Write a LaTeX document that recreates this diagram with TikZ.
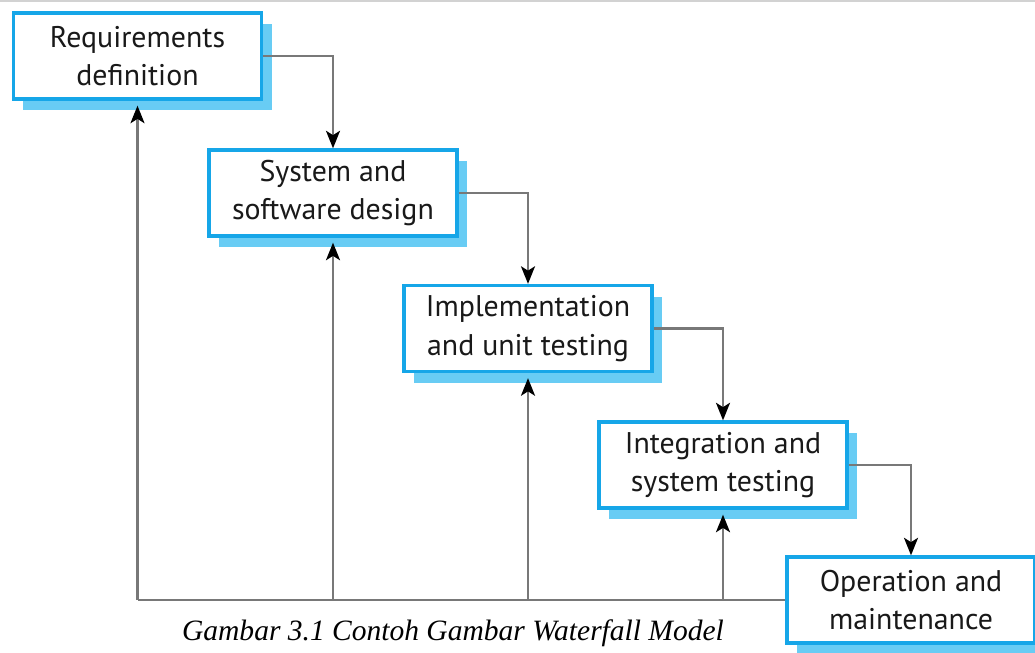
\documentclass[tikz,border=0pt]{standalone}
\usepackage{fontspec}
\setmainfont{Liberation Serif}
\newfontfamily\boxfont{PT Sans}
\usepackage{xcolor}
\usepackage{tikz}
\usetikzlibrary{arrows.meta}
\usetikzlibrary{shadows}
\definecolor{boxblue}{RGB}{22,166,232}
\definecolor{shadeblue}{RGB}{104,204,244}
\definecolor{linegray}{RGB}{120,120,120}
\tikzset{>=latex}
\tikzstyle{phase} = [rectangle, draw=boxblue, line width=1.9pt, fill=white, minimum width=4.96cm, minimum height=1.72cm, align=center, font=\boxfont\fontsize{17}{22}\selectfont, text=black!90, drop shadow={shadow xshift=0.2cm, shadow yshift=-0.22cm, fill=shadeblue, opacity=1}]
\tikzstyle{flow} = [-{Stealth[length=10pt, width=8pt, inset=2.5pt, black]}, draw=linegray, line width=1.2pt]

\begin{document}
\begin{tikzpicture}
\useasboundingbox (0, 0) rectangle (20.7, -13.04);
\draw [gray!35, line width=1pt] (0, -0.02) -- (20.7, -0.02);

\node [phase] (req) at (2.75, -1.12) {Requirements\\definition};
\node [phase] (des) at (6.66, -3.86) {System and\\software design};
\node [phase] (impl) at (10.56, -6.57) {Implementation\\and unit testing};
\node [phase] (integ) at (14.46, -9.3) {Integration and\\system testing};
\node [phase] (oper) at (18.22, -12.0) {Operation and\\maintenance};

% down the steps
\draw [flow] (req.east) -| (des.north);
\draw [flow] (des.east) -| (impl.north);
\draw [flow] (impl.east) -| (integ.north);
\draw [flow] (integ.east) -| (oper.north);

% back from operation
\coordinate (b1) at (req |- oper.west);
\coordinate (b2) at (des |- oper.west);
\coordinate (b3) at (impl |- oper.west);
\coordinate (b4) at (integ |- oper.west);
\draw [draw=linegray, line width=1.2pt] (b1) -- (oper.west);
\draw [flow, shorten >=0.1cm] (b1) -- (req.south);
\draw [flow, shorten >=0.1cm] (b2) -- (des.south);
\draw [flow, shorten >=0.1cm] (b3) -- (impl.south);
\draw [flow, shorten >=0.1cm] (b4) -- (integ.south);

\node (cap) at (9.06, -12.66) {\fontsize{16.8}{19}\selectfont\itshape Gambar 3.1 Contoh Gambar Waterfall Model};
\end{tikzpicture}
\end{document}
